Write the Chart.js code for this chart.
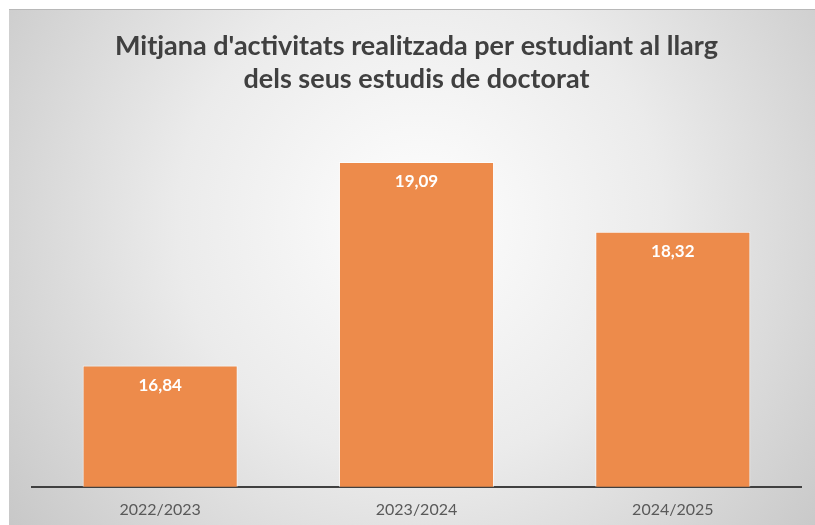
<!DOCTYPE html>
<html>
<head>
<meta charset="utf-8">
<script src="https://cdn.jsdelivr.net/npm/chart.js@4"></script>
<style>
  html, body { margin: 0; padding: 0; background: #fff; }
  #wrap { width: 815px; height: 525px; }
</style>
</head>
<body>
<div id="wrap"><canvas id="activitatsChart" width="815" height="525"></canvas></div>
<script>
// Dades llegides del gràfic
const cursos = ['2022/2023', '2023/2024', '2024/2025'];
const mitjanes = [16.84, 19.09, 18.32];
const titol = ["Mitjana d'activitats realitzada per estudiant al llarg", 'dels seus estudis de doctorat'];

// Fons amb degradat radial (com el gràfic d'Excel)
const fonsPlugin = {
    id: 'fons',
    beforeDraw(chart) {
        const ctx = chart.ctx;
        ctx.save();
        ctx.fillStyle = '#ffffff';
        ctx.fillRect(0, 0, chart.width, chart.height);
        const g = ctx.createRadialGradient(420, 220, 0, 420, 220, 540);
        g.addColorStop(0, '#fefefe');
        g.addColorStop(0.45, '#ebebeb');
        g.addColorStop(1, '#c4c4c4');
        ctx.fillStyle = g;
        ctx.fillRect(9, 9, chart.width - 9, chart.height - 9);
        ctx.fillStyle = '#b8b8b8';
        ctx.fillRect(9, 9, chart.width - 9, 1);
        ctx.restore();
    }
};

// Etiquetes de valor dins de cada barra
const etiquetesPlugin = {
    id: 'etiquetes',
    afterDatasetsDraw(chart) {
        const ctx = chart.ctx;
        const meta = chart.getDatasetMeta(0);
        ctx.save();
        ctx.fillStyle = '#ffffff';
        ctx.font = 'bold 17px Lato, "Open Sans", sans-serif';
        ctx.textAlign = 'center';
        ctx.textBaseline = 'middle';
        meta.data.forEach((bar, i) => {
            const txt = mitjanes[i].toFixed(2).replace('.', ',');
            ctx.fillText(txt, bar.x, bar.y + 20);
        });
        ctx.restore();
    }
};

const ctx = document.getElementById('activitatsChart').getContext('2d');
const myChart = new Chart(ctx, {
    type: 'bar',
    data: {
        labels: cursos,
        datasets: [{
            data: mitjanes,
            backgroundColor: '#ed8b4b',
            borderColor: 'rgba(255,255,255,0.7)',
            borderWidth: 1,
            barPercentage: 0.605,
            categoryPercentage: 1
        }]
    },
    options: {
        responsive: false,
        animation: false,
        layout: { padding: { left: 32, right: 14, top: 9, bottom: -7 } },
        plugins: {
            legend: { display: false },
            tooltip: { enabled: false },
            title: {
                display: true,
                text: titol,
                color: '#404040',
                font: { family: 'Lato, "Open Sans", sans-serif', size: 27, weight: 'bold', lineHeight: 1.22 },
                padding: { top: 21, bottom: 29 }
            }
        },
        scales: {
            x: {
                grid: { display: false, drawTicks: false },
                border: { display: true, color: '#404040', width: 2 },
                ticks: { color: '#595959', font: { family: 'Lato, "Open Sans", sans-serif', size: 16 }, padding: 13 }
            },
            y: {
                display: false,
                min: 15.5,
                max: 19.5
            }
        }
    },
    plugins: [fonsPlugin, etiquetesPlugin]
});
</script>
</body>
</html>
